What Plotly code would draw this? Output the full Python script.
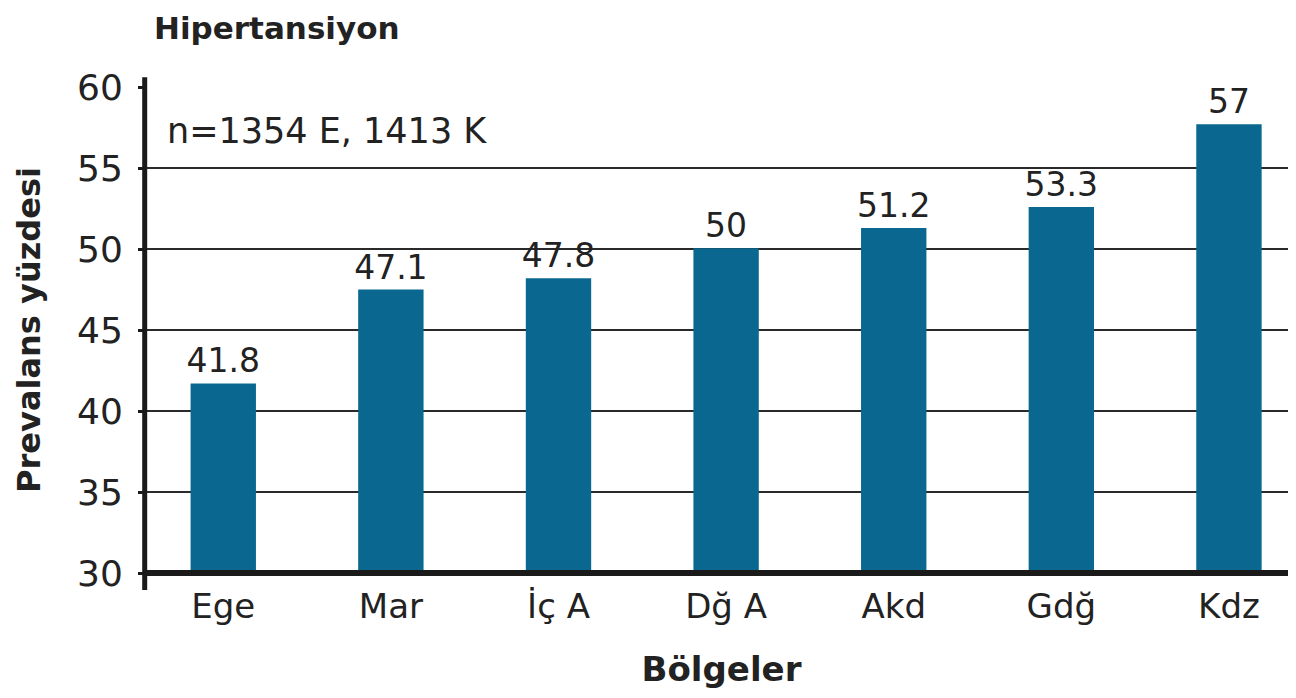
import plotly.graph_objects as go

categories = ["Ege", "Mar", "İç A", "Dğ A", "Akd", "Gdğ", "Kdz"]
bar_heights = [41.7, 47.5, 48.2, 50.05, 51.3, 52.6, 57.7]
label_values = ["41.8", "47.1", "47.8", "50", "51.2", "53.3", "57"]
y_ticks = [30, 35, 40, 45, 50, 55, 60]

BAR = "#0a6790"
TXT = "#222222"
FONT = "DejaVu Sans"

fig = go.Figure()
fig.add_trace(go.Bar(
    x=list(range(len(categories))),
    y=bar_heights,
    marker=dict(color=BAR, line=dict(width=0)),
    width=0.39,
    text=label_values,
    textposition="outside",
    constraintext="none",
    textfont=dict(family=FONT, size=33, color=TXT),
    cliponaxis=False,
    hoverinfo="skip",
))

fig.update_layout(
    template="none",
    width=1288, height=690,
    margin=dict(l=139, r=0, t=79, b=125, autoexpand=False),
    paper_bgcolor="white", plot_bgcolor="white",
    showlegend=False,
    font=dict(family=FONT, color=TXT),
    xaxis=dict(
        automargin=False,
        range=[-0.455, 6.40],
        tickmode="array",
        tickvals=list(range(len(categories))),
        ticktext=categories,
        tickfont=dict(family=FONT, size=34, color=TXT),
        showgrid=False, zeroline=False,
        showline=False, ticks="outside", ticklen=3, tickcolor="rgba(0,0,0,0)",
        title=dict(text="<b>Bölgeler</b>", font=dict(family=FONT, size=34, color=TXT), standoff=32),
    ),
    yaxis=dict(
        automargin=False,
        range=[30, 60],
        tickmode="array",
        tickvals=y_ticks,
        tickfont=dict(family=FONT, size=36, color=TXT),
        ticklabelstandoff=8,
        showgrid=True, gridcolor="#2a2a2a", gridwidth=2,
        zeroline=False, showline=False,
        ticks="outside", ticklen=8, tickwidth=3, tickcolor="#1a1a1a",
        title=dict(text="<b>Prevalans yüzdesi</b>", font=dict(family=FONT, size=32, color=TXT), standoff=26),
    ),
    shapes=[
        dict(type="line", xref="paper", yref="paper", x0=-0.002, x1=-0.002, y0=-0.035, y1=1.02,
             line=dict(color="#1a1a1a", width=5), layer="above"),
        dict(type="line", xref="paper", yref="paper", x0=-0.002, x1=1, y0=0, y1=0,
             line=dict(color="#1a1a1a", width=6), layer="above"),
    ],
    annotations=[
        dict(text="<b>Hipertansiyon</b>", xref="paper", yref="paper", x=0.005, y=1.16,
             xanchor="left", yanchor="top", showarrow=False, borderpad=0,
             font=dict(family=FONT, size=31, color=TXT)),
        dict(text="n=1354 E, 1413 K", xref="paper", yref="paper", x=0.016, y=0.91,
             xanchor="left", yanchor="middle", showarrow=False,
             font=dict(family=FONT, size=35, color=TXT)),
    ],
)

fig.write_html("out.html")
